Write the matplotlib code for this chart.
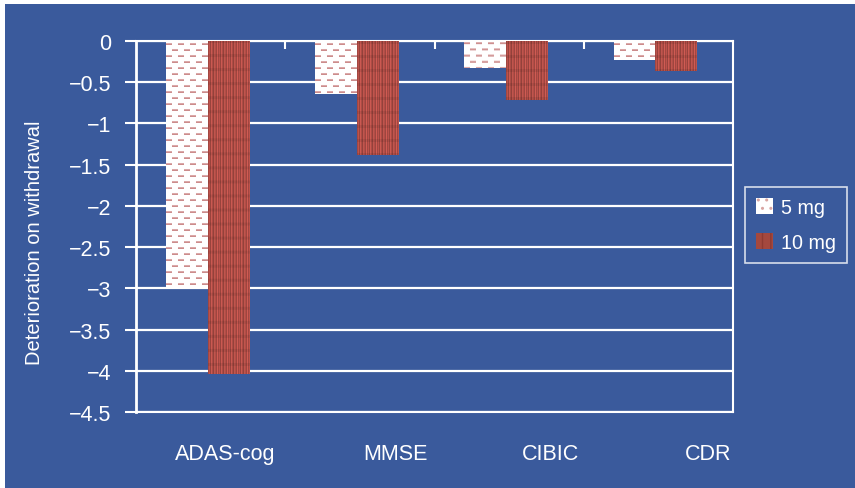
import numpy as np
import matplotlib
matplotlib.use("Agg")
import matplotlib.pyplot as plt
from matplotlib.patches import Patch, Rectangle

plt.rcParams['font.family'] = ['Liberation Sans', 'DejaVu Sans']

categories = ["ADAS-cog", "MMSE", "CIBIC", "CDR"]
dose_5mg = [-2.98, -0.64, -0.33, -0.23]
dose_10mg = [-4.04, -1.38, -0.71, -0.36]
series_names = ["5 mg", "10 mg"]
yticks = [0, -0.5, -1, -1.5, -2, -2.5, -3, -3.5, -4, -4.5]
label_x = [0.10, 1.24, 2.28, 3.33]

blue = '#3A5A9C'
white = 'white'


def dash_texture(h, w):
    # white fill with staggered short pink dashes
    tex = np.ones((h, w, 3))
    for r in range(2, h, 6):
        shift = 0 if (r // 6) % 2 == 0 else 6
        for c in range(-12 + shift, w, 12):
            c0, c1 = max(c, 0), min(c + 6, w)
            if c1 > c0:
                tex[r, c0:c1] = [0.86, 0.66, 0.66]
                if r + 1 < h:
                    tex[r + 1, c0:c1] = [0.80, 0.55, 0.55]
    return tex


def stripe_texture(h, w):
    # brick red with uneven vertical stripes
    shades = [0.64, 0.74, 0.60, 0.80, 0.68, 0.58, 0.76, 0.70, 0.62, 0.82]
    tex = np.zeros((h, w, 3))
    for c in range(w):
        s = shades[c % len(shades)]
        tex[:, c] = [s, s * 0.44, s * 0.40]
    for r in range(0, h, 14):
        tex[r:r + 3] *= 0.92
    return tex


fig = plt.figure(figsize=(8.55, 4.89), dpi=100)
fig.add_artist(Rectangle((5 / 855, 0), 1, 484 / 489, transform=fig.transFigure,
                         facecolor=blue, edgecolor='none', zorder=-10))
ax = fig.add_axes([136 / 855, 76 / 489, 597 / 855, 371 / 489])
ax.set_facecolor(blue)

x = np.arange(len(categories))
width = 0.28
bars5 = ax.bar(x - 0.30, dose_5mg, width, align='edge', color=white, zorder=2)
bars10 = ax.bar(x - 0.02, dose_10mg, width, align='edge', color='#A4483E', zorder=2)

ax.set_xlim(-0.5, 3.5)
ax.set_ylim(-4.5, 0)

fig.canvas.draw()
for bars, make in ((bars5, dash_texture), (bars10, stripe_texture)):
    for b in bars:
        bb = b.get_window_extent()
        h, w = max(int(round(bb.height)), 1), max(int(round(bb.width)), 1)
        x0, y0 = b.get_x(), b.get_y()
        im = ax.imshow(make(h, w), extent=[x0, x0 + b.get_width(), y0 + b.get_height(), y0],
                       aspect='auto', interpolation='bilinear', zorder=3, origin='upper')
        im.set_clip_path(b)
ax.set_xlim(-0.5, 3.5)
ax.set_ylim(-4.5, 0)

ax.set_yticks(yticks)
ax.set_yticklabels([("%g" % t).replace('-', '\u2212') for t in yticks])
ax.yaxis.grid(True, color=white, linewidth=1.6)
ax.set_axisbelow(True)
ax.tick_params(axis='y', colors=white, labelsize=15.5, length=8, width=1.5, pad=10)

ax.set_xticks([0.5, 1.5, 2.5])
ax.set_xticklabels([])
ax.tick_params(axis='x', which='both', bottom=False, top=True, direction='in',
               colors=white, length=6, width=1.5)
for i, name in enumerate(categories):
    ax.text(label_x[i], -5.0, name, ha='center', va='center', color=white, fontsize=15.5)

for side in ['left', 'right', 'top', 'bottom']:
    ax.spines[side].set_color(white)
    ax.spines[side].set_linewidth(1.5)
ax.spines['left'].set_linewidth(2)

ax.set_ylabel("Deterioration on withdrawal", color=white, fontsize=14.5)
ax.yaxis.set_label_coords(-0.154, 0.46)

handles = [Patch(facecolor=white, edgecolor='#D9A5A2', hatch='..', linewidth=0),
           Patch(facecolor='#A4483E', edgecolor='#8E3A32', hatch='||', linewidth=0)]
leg = fig.legend(handles, series_names, loc='center left',
                 bbox_to_anchor=(745 / 855, 1 - 226 / 489), borderaxespad=0,
                 frameon=True, fancybox=False,
                 fontsize=14.2, handlelength=0.85, handleheight=0.85, handletextpad=0.45,
                 labelspacing=0.8, borderpad=0.55)
leg.get_frame().set_facecolor(blue)
leg.get_frame().set_edgecolor(white)
leg.get_frame().set_linewidth(1.2)
for t in leg.get_texts():
    t.set_color(white)

fig.savefig("out.png", dpi=100, facecolor=white)
